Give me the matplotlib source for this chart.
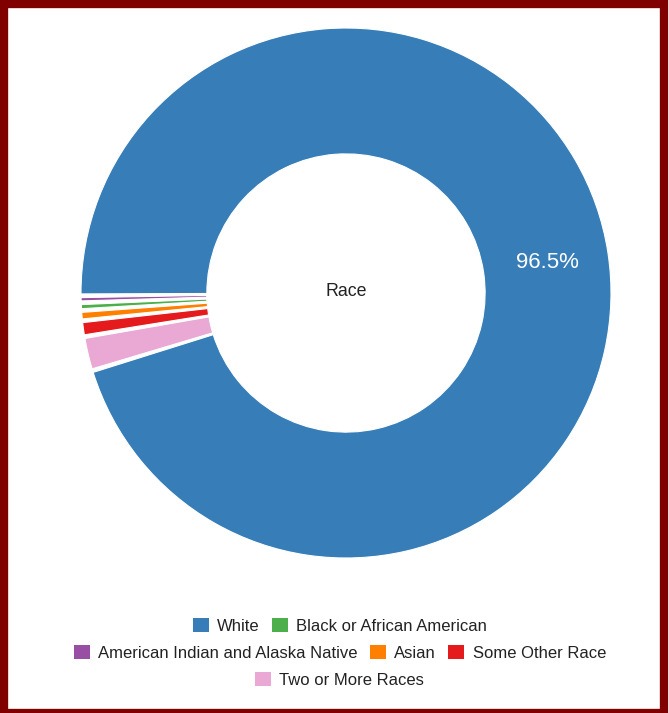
import matplotlib.pyplot as plt
from matplotlib.patches import Patch, Rectangle

# pie order (counterclockwise from lower-left)
pie_labels = ['White', 'American Indian and Alaska Native', 'Black or African American',
              'Asian', 'Some Other Race', 'Two or More Races']
pie_values = [96.5, 0.2, 0.25, 0.4, 0.75, 1.9]
pie_colors = ['#377eb8', '#984ea3', '#4daf4a', '#ff7f00', '#e41a1c', '#eaa8d4']

legend_rows = [['White', 'Black or African American'],
               ['American Indian and Alaska Native', 'Asian', 'Some Other Race'],
               ['Two or More Races']]

plt.rcParams['font.family'] = ['Liberation Sans', 'DejaVu Sans']

fig = plt.figure(figsize=(6.69, 7.13), dpi=100)
fig.patch.set_facecolor('white')

ax = fig.add_axes([81/669, (713-558)/713, 530/669, 530/713])
wedges, _ = ax.pie(pie_values, colors=pie_colors, counterclock=True, radius=1.0,
                   wedgeprops=dict(width=0.475, edgecolor='white', linewidth=0.8))

# add a small pad angle between slices, small slices just below 9 o'clock
pad = 0.8
scale = (360 - len(wedges) * pad) / 360
spans = [(w.theta2 - w.theta1) * scale for w in wedges]
angle = 181 - spans[0] - pad
for w, span in zip(wedges, spans):
    w.set_theta1(angle)
    w.set_theta2(angle + span)
    angle += span + pad

ax.set_xlim(-1, 1)
ax.set_ylim(-1, 1)
ax.set_aspect('equal')
ax.axis('off')

ax.text(0, 0.007, 'Race', ha='center', va='center', fontsize=12.8, color='#222222')
ax.text(0.76, 0.115, '96.5%', ha='center', va='center', fontsize=16, color='white')

color_of = dict(zip(pie_labels, pie_colors))
row_y = [626, 653, 680]
for row, y in zip(legend_rows, row_y):
    handles = [Patch(facecolor=color_of[l], edgecolor='none', label=l) for l in row]
    leg = fig.legend(handles=handles, loc='center', bbox_to_anchor=(0.508, 1 - y/713),
                     ncol=len(row), frameon=False, fontsize=12, handlelength=0.95,
                     handleheight=0.95, handletextpad=0.5, columnspacing=0.75,
                     borderpad=0, borderaxespad=0)
    for t in leg.get_texts():
        t.set_color('#222222')

# dark red frame
fig.patches.append(Rectangle((4/669, 0.5/713), 660/669, 708.5/713, transform=fig.transFigure,
                             fill=False, edgecolor='#800000', linewidth=6))

fig.savefig('out.png', dpi=100)
